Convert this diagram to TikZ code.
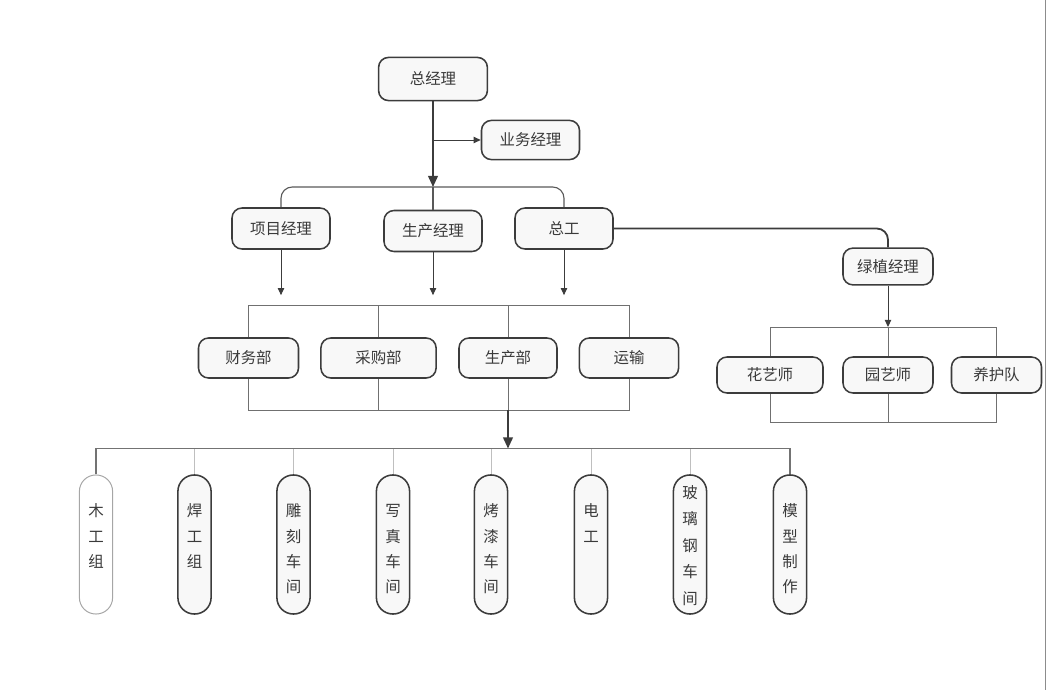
\documentclass[tikz,border=0pt]{standalone}
\usepackage{fontspec}
\newfontfamily\cjk{Noto Sans CJK SC}
\usepackage{tikz}
\usetikzlibrary{arrows.meta}
\definecolor{boxline}{HTML}{3C3C3C}
\definecolor{boxfill}{HTML}{F8F8F8}
\definecolor{txt}{HTML}{3A3A3A}
\definecolor{linegray}{HTML}{707070}

\tikzset{
  box/.style={draw=boxline, line width=1.1pt, rounded corners=0.25cm, fill=boxfill, text=txt,
    font=\cjk\fontsize{11}{13}\selectfont, minimum width=2.45cm, minimum height=1.025cm, inner sep=0pt},
  pill/.style={draw=boxline, line width=1.1pt, rounded corners=0.41cm, fill=boxfill, text=txt,
    font=\cjk\fontsize{11}{17.8}\selectfont, text width=0.83cm, align=center, inner sep=0pt,
    text height=1.05cm, text depth=2.425cm},
  thinline/.style={draw=linegray, line width=0.6pt},
  heavy/.style={draw=boxline, line width=1.3pt},
  bigarrow/.style={draw=boxline, line width=1.3pt, -{Triangle[width=7pt,length=8pt]}},
  smallarrow/.style={draw=boxline, line width=0.7pt, -{Triangle[width=4.5pt,length=5pt]}}
}

\begin{document}
\begin{tikzpicture}[x=0.025cm, y=-0.025cm]
\useasboundingbox (0,0) rectangle (1047,690);

% managers
\node[box, minimum width=2.72cm, minimum height=1.08cm] (gm) at (433,79) {总经理};
\node[box, minimum height=0.98cm] (biz) at (530.5,140) {业务经理};
\node[box] (proj) at (281,228.5) {项目经理};
\node[box] (prodm) at (433,231) {生产经理};
\node[box] (chief) at (564,228.5) {总工};
\node[box, minimum width=2.25cm, minimum height=0.92cm] (green) at (888,266.5) {绿植经理};

\coordinate (top) at (433,187);
\coordinate (split) at (gm.south |- biz.west);
\draw[bigarrow] (gm.south) -- (top);
\draw[smallarrow] (split) -- (biz.west);
\draw[draw=boxline!85, line width=0.8pt, rounded corners=8] (proj.north) -- (proj.north |- top) -- (chief.north |- top) -- (chief.north);
\draw[draw=boxline!85, line width=0.8pt] (top) -- (prodm.north);
\draw[heavy, rounded corners=8] (chief.east) -- (chief.east -| green.north) -- (green.north);

% departments
\node[box, minimum width=2.5cm, minimum height=1cm] (fin) at (248.5,358) {财务部};
\node[box, minimum width=2.88cm, minimum height=1cm] (buy) at (378.5,358) {采购部};
\node[box, minimum height=1cm] (prodd) at (508,358) {生产部};
\node[box, minimum width=2.48cm, minimum height=1cm] (trans) at (629,358) {运输};

\coordinate (deptop) at (433,305);
\coordinate (depbot) at (433,410);
\draw[smallarrow, shorten >=7pt] (proj.south) -- (proj.south |- deptop);
\draw[smallarrow, shorten >=7pt] (prodm.south) -- (prodm.south |- deptop);
\draw[smallarrow, shorten >=7pt] (chief.south) -- (chief.south |- deptop);
\draw[thinline] (fin.north) -- (fin.north |- deptop) -- (trans.north |- deptop) -- (trans.north);
\draw[thinline] (buy.north) -- (buy.north |- deptop);
\draw[thinline] (prodd.north) -- (prodd.north |- deptop);
\draw[thinline] (fin.south) -- (fin.south |- depbot) -- (trans.south |- depbot) -- (trans.south);
\draw[thinline] (buy.south) -- (buy.south |- depbot);
\draw[thinline] (prodd.south) -- (prodd.south |- depbot);

% workshops
\node[pill, draw=black!35, line width=0.7pt, fill=white] (w1) at (96,544.5) {木\\工\\组};
\node[pill] (w2) at (194.5,544.5) {焊\\工\\组};
\node[pill] (w3) at (293.5,544.5) {雕\\刻\\车\\间};
\node[pill] (w4) at (393,544.5) {写\\真\\车\\间};
\node[pill] (w5) at (491,544.5) {烤\\漆\\车\\间};
\node[pill] (w6) at (591,544.5) {电\\工};
\node[pill, font=\cjk\fontsize{11}{18.9}\selectfont, text height=0.58cm, text depth=2.895cm] (w7) at (690,544.5) {玻\\璃\\钢\\车\\间};
\node[pill] (w8) at (790,544.5) {模\\型\\制\\作};

\coordinate (shop) at (508,448.5);
\draw[bigarrow] (prodd.south |- depbot) -- (shop);
\draw[draw=black!55, line width=1pt] (w1.north) -- (w1.north |- shop) -- (w8.north |- shop) -- (w8.north);
\foreach \w in {w2,w3,w4,w5,w6,w7}
  \draw[draw=black!25, line width=0.4pt] (\w.north) -- (\w.north |- shop);

% green team
\node[box, minimum width=2.65cm, minimum height=0.9cm] (flor) at (770,375) {花艺师};
\node[box, minimum width=2.25cm, minimum height=0.9cm] (gard) at (888,375) {园艺师};
\node[box, minimum width=2.25cm, minimum height=0.9cm] (care) at (996.5,375) {养护队};

\coordinate (gtop) at (888,327);
\coordinate (gbot) at (888,422);
\draw[smallarrow] (green.south) -- (gtop);
\draw[thinline] (flor.north) -- (flor.north |- gtop) -- (care.north |- gtop) -- (care.north);
\draw[thinline] (gard.north) -- (gtop);
\draw[thinline] (flor.south) -- (flor.south |- gbot) -- (care.south |- gbot) -- (care.south);
\draw[thinline] (gard.south) -- (gbot);

% right edge
\draw[draw=black!45, line width=0.6pt] (1045.5,0) -- (1045.5,690);
\end{tikzpicture}
\end{document}
